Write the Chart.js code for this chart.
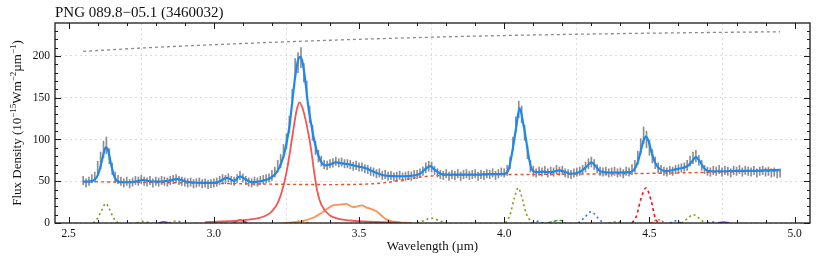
<!DOCTYPE html>
<html>
<head>
<meta charset="utf-8">
<script src="https://cdn.jsdelivr.net/npm/chart.js@4.4.1/dist/chart.umd.min.js"></script>
<style>
  html, body { margin: 0; padding: 0; background: #fff; }
</style>
</head>
<body>
<canvas id="spec" width="830" height="256"></canvas>
<script>
// observed spectrum, sampled every 0.01 um from 2.55 to 4.95
const obsFlux = [
  51, 48, 50, 53, 55, 66, 75, 88, 93, 80,
  65, 55, 52, 50, 48, 50, 47, 49, 51, 50,
  52, 50, 49, 51, 48, 50, 49, 51, 50, 49,
  51, 52, 53, 51, 50, 49, 48, 49, 47, 48,
  49, 47, 48, 46, 47, 48, 49, 51, 53, 52,
  54, 51, 50, 53, 57, 54, 51, 49, 48, 50,
  49, 51, 52, 53, 54, 57, 61, 68, 74, 86,
  98, 118, 150, 185, 192, 198, 180, 160, 130, 108,
  90, 80, 74, 70, 69, 71, 72, 74, 72, 73,
  71, 71, 70, 68, 69, 67, 67, 65, 64, 62,
  61, 59, 60, 57, 58, 56, 57, 55, 56, 57,
  55, 56, 57, 56, 58, 58, 60, 62, 66, 68,
  67, 63, 60, 58, 57, 59, 56, 58, 57, 59,
  56, 58, 59, 57, 58, 59, 56, 58, 57, 59,
  58, 60, 57, 59, 61, 60, 63, 72, 95, 118,
  136, 130, 108, 85, 68, 62, 60, 62, 61, 63,
  60, 62, 61, 64, 62, 63, 60, 59, 58, 60,
  61, 62, 64, 67, 71, 73, 70, 65, 62, 61,
  62, 60, 61, 62, 60, 61, 59, 62, 61, 64,
  68, 78, 92, 105, 100, 90, 80, 72, 66, 64,
  62, 61, 63, 62, 64, 65, 66, 67, 69, 74,
  78, 80, 75, 69, 64, 62, 61, 63, 62, 64,
  61, 63, 62, 60, 63, 62, 64, 61, 63, 62,
  61, 63, 60, 62, 63, 61, 62, 60, 61, 59,
  60
];
const obsErr = [
  5, 5, 5, 5, 6, 8, 10, 10, 10, 9,
  7, 6, 5, 5, 5, 5, 5, 5, 5, 5,
  5, 5, 5, 5, 5, 5, 5, 5, 5, 5,
  5, 5, 5, 5, 5, 5, 5, 5, 5, 5,
  5, 5, 5, 5, 5, 5, 5, 5, 5, 5,
  5, 5, 5, 5, 5, 5, 5, 5, 5, 5,
  5, 5, 5, 5, 5, 6, 6, 7, 8, 8,
  9, 10, 10, 12, 12, 12, 11, 10, 10, 9,
  8, 7, 6, 5, 5, 5, 5, 5, 5, 5,
  5, 5, 5, 5, 5, 5, 5, 5, 5, 5,
  5, 5, 5, 5, 5, 5, 5, 5, 5, 5,
  5, 5, 5, 5, 5, 5, 5, 5, 6, 6,
  6, 5, 5, 5, 5, 5, 5, 5, 5, 5,
  5, 5, 5, 5, 5, 5, 5, 5, 5, 5,
  5, 5, 5, 5, 5, 5, 6, 7, 8, 9,
  10, 10, 9, 8, 7, 6, 5, 5, 5, 5,
  5, 5, 5, 5, 5, 5, 5, 5, 5, 5,
  5, 5, 5, 6, 6, 6, 6, 5, 5, 5,
  5, 5, 5, 5, 5, 5, 5, 5, 5, 6,
  7, 8, 9, 10, 10, 9, 8, 7, 6, 5,
  5, 5, 5, 5, 5, 5, 5, 5, 6, 6,
  7, 7, 6, 6, 5, 5, 5, 5, 5, 5,
  5, 5, 5, 5, 5, 5, 5, 5, 5, 5,
  5, 5, 5, 5, 5, 5, 5, 5, 5, 5,
  5
];
const obsWave = obsFlux.map((_, i) => +(2.55 + i * 0.01).toFixed(2));

// total fit
const fitWave = [
  2.55, 2.57, 2.59, 2.60, 2.61, 2.62, 2.628, 2.635, 2.645, 2.655, 2.665, 2.68, 2.70,
  2.73, 2.755, 2.78, 2.81, 2.84, 2.875, 2.90, 2.93, 2.96, 3.00, 3.02, 3.045, 3.07,
  3.09, 3.11, 3.13, 3.16, 3.19, 3.21, 3.225, 3.24, 3.25, 3.26, 3.27, 3.28, 3.29,
  3.297, 3.305, 3.315, 3.325, 3.335, 3.345, 3.355, 3.37, 3.385, 3.40, 3.42, 3.44,
  3.46, 3.48, 3.50, 3.52, 3.54, 3.56, 3.58, 3.60, 3.64, 3.68, 3.71, 3.73, 3.745,
  3.76, 3.78, 3.80, 3.85, 3.90, 3.95, 4.00, 4.015, 4.025, 4.04, 4.053, 4.065, 4.075,
  4.085, 4.095, 4.11, 4.13, 4.16, 4.19, 4.21, 4.23, 4.26, 4.285, 4.30, 4.315, 4.33,
  4.36, 4.40, 4.43, 4.445, 4.46, 4.47, 4.48, 4.488, 4.497, 4.508, 4.52, 4.535, 4.56,
  4.58, 4.60, 4.63, 4.645, 4.66, 4.675, 4.69, 4.71, 4.75, 4.80, 4.85, 4.90, 4.948
];
const fitFlux = [
  49.5, 49.8, 52, 57, 68, 83, 90.5, 88, 72, 58, 51, 49, 48.8,
  49.5, 51.5, 50, 49.5, 50.5, 52.5, 50, 48.5, 48, 48, 50, 54, 50.5,
  56, 52, 49, 50, 53, 58, 66, 80, 95, 115, 145, 175, 195,
  199, 193, 170, 140, 119, 100, 86, 73, 69, 70, 72.5, 71.5,
  70.5, 69, 67.5, 66, 63, 60, 57.5, 56.5, 56, 56.5, 59, 65, 68,
  64, 59, 58, 58, 58, 58.5, 59, 64, 80, 112, 137.5, 120, 100,
  78, 64, 61, 61.5, 61, 63, 61, 59, 61, 68, 72.5, 68, 62,
  60.5, 60.5, 61, 63, 73, 86, 99, 103.5, 98, 84, 72, 65, 62,
  63.5, 65, 68, 73, 79, 73, 65, 62, 62, 62.5, 62.5, 63, 63.5
];

// model components [wavelength, flux]
const continuum = [[2.55, 49.5], [2.8, 48.5], [3.0, 47.5], [3.2, 46.5], [3.4, 46], [3.5, 46.3],
  [3.55, 47], [3.6, 48.7], [3.65, 51.5], [3.7, 54.5], [3.75, 56.3], [3.8, 57.2], [3.9, 57.7],
  [4.0, 58], [4.2, 58.4], [4.4, 59], [4.6, 60], [4.8, 61.5], [4.95, 62.5]];
const dustCurve = [[2.55, 205.5], [2.75, 209.5], [3.0, 213.5], [3.25, 217], [3.5, 220],
  [3.75, 222.5], [4.0, 224.5], [4.25, 226], [4.5, 227.3], [4.75, 228.3], [4.95, 229]];
const pah33 = [[2.97, 1], [3.03, 1.8], [3.08, 2.8], [3.12, 4], [3.15, 5.5], [3.18, 9], [3.20, 14],
  [3.22, 24], [3.24, 45], [3.255, 70], [3.27, 103], [3.285, 135], [3.295, 144.5], [3.305, 138],
  [3.315, 125], [3.325, 108], [3.335, 88], [3.345, 62], [3.355, 40], [3.37, 22], [3.40, 9],
  [3.43, 5], [3.47, 3], [3.52, 1.8], [3.58, 1], [3.64, 0.5]];
const plateau34 = [[3.236, 0], [3.27, 0.8], [3.30, 2], [3.34, 6], [3.37, 12], [3.39, 17],
  [3.41, 21], [3.43, 22], [3.455, 23], [3.48, 19], [3.495, 20], [3.51, 21], [3.525, 18.5],
  [3.54, 17], [3.56, 14], [3.58, 8], [3.595, 4], [3.62, 1.5], [3.66, 0.3], [3.68, 0]];
const oliveLines = [
  [[2.585, 0], [2.60, 6], [2.615, 16], [2.628, 23.5], [2.64, 17], [2.655, 6], [2.67, 0]],
  [[2.735, 0], [2.757, 2], [2.78, 0]],
  [[2.845, 0], [2.87, 2.5], [2.895, 0]],
  [[3.27, 0], [3.30, 2.5], [3.33, 0]],
  [[3.70, 0], [3.725, 3], [3.75, 6], [3.775, 3], [3.80, 0]],
  [[4.005, 0], [4.02, 10], [4.035, 30], [4.048, 42], [4.06, 32], [4.075, 12], [4.095, 0]],
  [[4.36, 0], [4.385, 1.5], [4.41, 0]],
  [[4.61, 0], [4.63, 5], [4.651, 10], [4.67, 6], [4.69, 0]]
];
const blueLines = [
  [[4.095, 0], [4.115, 2], [4.135, 0]],
  [[4.255, 0], [4.275, 6], [4.30, 13.5], [4.32, 7], [4.34, 0]],
  [[4.57, 0], [4.59, 2.5], [4.61, 0]],
  [[4.70, 0], [4.715, 1.5], [4.73, 0]]
];
const redLine = [[4.44, 0], [4.455, 8], [4.47, 28], [4.488, 42], [4.505, 28], [4.52, 6], [4.53, 0]];
const orangeLine = [[4.505, 0], [4.53, 4], [4.555, 0]];
const greenLine = [[4.15, 0], [4.175, 2.5], [4.20, 3], [4.21, 0]];
const purpleLines = [
  [[2.81, 0], [2.827, 1.5], [2.845, 0]],
  [[3.065, 0], [3.09, 3.5], [3.115, 0]],
  [[4.735, 0], [4.755, 1.2], [4.775, 0]]
];

const serif = "'Liberation Serif', 'DejaVu Serif', serif";

function curve(points, color, width, dash, order) {
  return {
    type: 'line',
    data: points.map(p => ({ x: p[0], y: p[1] })),
    borderColor: color,
    borderWidth: width,
    borderDash: dash,
    pointRadius: 0,
    fill: false,
    cubicInterpolationMode: 'monotone',
    order: order
  };
}

const datasets = [];
datasets.push({
  type: 'line',
  data: fitWave.map((w, i) => ({ x: w, y: fitFlux[i] })),
  borderColor: '#1e88ee',
  borderWidth: 2.2,
  pointRadius: 0,
  fill: false,
  cubicInterpolationMode: 'monotone',
  order: 0
});
datasets.push(curve(dustCurve, '#8a8a8a', 1.3, [3, 3], 3));
datasets.push(curve(continuum, '#f04a28', 1.4, [3, 3], 2));
datasets.push(curve(pah33, '#f45656', 1.8, [], 2));
datasets.push(curve(plateau34, '#ff9050', 1.8, [], 2));
oliveLines.forEach(l => datasets.push(curve(l, '#8c9418', 1.6, [2, 3], 2)));
blueLines.forEach(l => datasets.push(curve(l, '#3a70e4', 1.6, [2, 3], 2)));
datasets.push(curve(redLine, '#e8141c', 1.6, [3, 3], 2));
datasets.push(curve(orangeLine, '#ff6a20', 1.5, [2, 2], 2));
datasets.push(curve(greenLine, '#2ea83a', 1.5, [4, 2], 2));
purpleLines.forEach(l => datasets.push(curve(l, '#7a3ae8', 1.6, [], 2)));
datasets.push({
  type: 'bar',
  data: obsWave.map((w, i) => ({ x: w, y: [obsFlux[i] - obsErr[i], obsFlux[i] + obsErr[i]] })),
  backgroundColor: '#8e8e8e',
  borderWidth: 0,
  barThickness: 1,
  order: 10
});

const frameTicks = {
  id: 'frameTicks',
  afterDatasetsDraw(chart) {
    const { ctx, chartArea: a, scales: { x, y } } = chart;
    ctx.save();
    ctx.strokeStyle = '#1a1a1a';
    ctx.lineWidth = 1;
    ctx.beginPath();
    for (let t = 25; t <= 50; t++) {
      const px = Math.round(x.getPixelForValue(t / 10)) + 0.5;
      const len = t % 5 === 0 ? 6 : 3;
      ctx.moveTo(px, a.bottom); ctx.lineTo(px, a.bottom - len);
      ctx.moveTo(px, a.top); ctx.lineTo(px, a.top + len);
    }
    for (let v = 0; v <= 230; v += 10) {
      const py = Math.round(y.getPixelForValue(v)) + 0.5;
      const len = v % 50 === 0 ? 6 : 3;
      ctx.moveTo(a.left, py); ctx.lineTo(a.left + len, py);
      ctx.moveTo(a.right, py); ctx.lineTo(a.right - len, py);
    }
    ctx.stroke();
    ctx.lineWidth = 1.3;
    ctx.strokeRect(a.left, a.top, a.right - a.left, a.bottom - a.top);

    // y axis title with superscripts
    const parts = [['Flux Density (10', 0], ['\u221215', 1], ['Wm', 0], ['\u22122', 1],
      ['\u00b5m', 0], ['\u22121', 1], [')', 0]];
    const big = '13px ' + serif, small = '9px ' + serif;
    let total = 0;
    parts.forEach(p => { ctx.font = p[1] ? small : big; total += ctx.measureText(p[0]).width; });
    ctx.translate(21, (a.top + a.bottom) / 2);
    ctx.rotate(-Math.PI / 2);
    ctx.fillStyle = '#111';
    ctx.textBaseline = 'alphabetic';
    let u = -total / 2;
    parts.forEach(p => {
      ctx.font = p[1] ? small : big;
      ctx.fillText(p[0], u, p[1] ? -5 : 0);
      u += ctx.measureText(p[0]).width;
    });
    ctx.restore();
  }
};

new Chart(document.getElementById('spec'), {
  type: 'line',
  data: { datasets: datasets },
  options: {
    responsive: false,
    devicePixelRatio: 1,
    animation: false,
    events: [],
    layout: { padding: { left: 0, right: 20, top: 0, bottom: 0 } },
    plugins: {
      legend: { display: false },
      tooltip: { enabled: false },
      title: {
        display: true,
        text: 'PNG 089.8\u221205.1 (3460032)',
        align: 'start',
        fullSize: false,
        color: '#111',
        font: { family: serif, size: 15, weight: 'normal' },
        padding: { top: 4, bottom: 1 }
      }
    },
    scales: {
      x: {
        type: 'linear',
        min: 2.453,
        max: 5.053,
        offset: false,
        ticks: {
          stepSize: 0.5,
          includeBounds: false,
          autoSkip: false,
          maxRotation: 0,
          padding: 4,
          color: '#111',
          font: { family: serif, size: 11.5 },
          callback: v => v.toFixed(1)
        },
        grid: { color: '#dcdcdc', drawTicks: false },
        border: { display: false, dash: [2, 3] },
        title: {
          display: true,
          text: 'Wavelength (\u00b5m)',
          color: '#111',
          font: { family: serif, size: 13 },
          padding: { top: 0, bottom: 2 }
        },
        afterFit: s => { s.height = 33; }
      },
      y: {
        min: 0,
        max: 239.5,
        ticks: {
          stepSize: 50,
          includeBounds: false,
          padding: 5,
          color: '#111',
          font: { family: serif, size: 11.5 }
        },
        grid: { color: '#dcdcdc', drawTicks: false },
        border: { display: false, dash: [2, 3] },
        afterFit: s => { s.width = 55; }
      }
    }
  },
  plugins: [frameTicks]
});
</script>
</body>
</html>
